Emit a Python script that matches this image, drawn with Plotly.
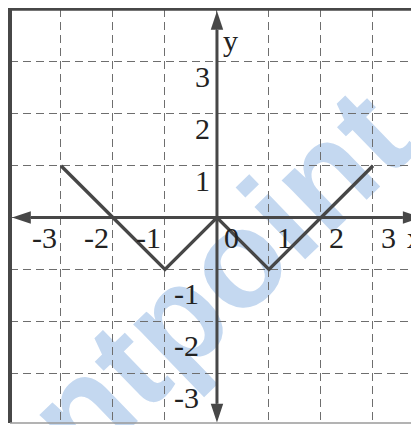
import plotly.graph_objects as go

# graph of the function, corner points
x_vals = [-3, -1, 0, 1, 3]
y_vals = [1, -1, 0, -1, 1]

grid_ticks = [-3, -2, -1, 0, 1, 2, 3]
x_tick_labels = ["-3", "-2", "-1", "0", "1", "2", "3"]
y_tick_labels = ["3", "2", "1", "-1", "-2", "-3"]
y_tick_vals = [3, 2, 1, -1, -2, -3]

x_range = [-3.98, 3.885]
y_range = [-3.96, 4.02]

axis_col = "#474747"
serif = "Liberation Serif, Times New Roman, serif"

fig = go.Figure()

fig.add_trace(go.Scatter(x=x_vals, y=y_vals, mode="lines",
                         line=dict(color=axis_col, width=3.4), hoverinfo="skip"))

# axes with arrow heads (data units are square: ~52px per unit)
hl, hw = 0.36, 0.12
xl, xr = x_range[0] + 0.04, x_range[1] + 0.05
yb, yt = y_range[0] + 0.01, y_range[1] - 0.04
shapes = [
    dict(type="line", x0=xl + hl, y0=0, x1=xr - hl, y1=0, line=dict(color=axis_col, width=3)),
    dict(type="line", x0=0, y0=yb + hl, x1=0, y1=yt - hl, line=dict(color=axis_col, width=3)),
    dict(type="path", path=f"M{xl},0 L{xl+hl},{hw} L{xl+hl},{-hw} Z",
         fillcolor=axis_col, line=dict(width=0)),
    dict(type="path", path=f"M{xr},0 L{xr-hl},{hw} L{xr-hl},{-hw} Z",
         fillcolor=axis_col, line=dict(width=0)),
    dict(type="path", path=f"M0,{yt} L{hw},{yt-hl} L{-hw},{yt-hl} Z",
         fillcolor=axis_col, line=dict(width=0)),
    dict(type="path", path=f"M0,{yb} L{hw},{yb+hl} L{-hw},{yb+hl} Z",
         fillcolor=axis_col, line=dict(width=0)),
    # frame
    dict(type="line", xref="paper", yref="paper", x0=0, y0=0, x1=0, y1=1.01,
         line=dict(color=axis_col, width=4)),
    dict(type="line", xref="paper", yref="paper", x0=0, y0=1, x1=1, y1=1,
         line=dict(color=axis_col, width=3.5)),
    dict(type="line", xref="paper", yref="paper", x0=0, y0=0, x1=1, y1=0,
         line=dict(color="#9a9a9a", width=1.5)),
    # watermark
    dict(type="line", xref="paper", yref="paper", x0=0.257, y0=0.156, x1=0.784, y1=0.660,
         layer="below", line=dict(width=0, color="rgba(0,0,0,0)"),
         label=dict(text="entpoint.c", textposition="middle", yanchor="middle",
                    font=dict(family="Liberation Sans, Arial, sans-serif", size=138,
                              color="#c4d8f0", weight="bold"))),
]

annotations = []
for v, t in zip(grid_ticks, x_tick_labels):
    if v < 0:
        annotations.append(dict(x=v - 0.04, y=-0.38, text=t, xanchor="right"))
    elif v == 0:
        annotations.append(dict(x=0.1, y=-0.38, text=t, xanchor="left"))
    else:
        annotations.append(dict(x=v + 0.12, y=-0.38, text=t, xanchor="left"))
for v, t in zip(y_tick_vals, y_tick_labels):
    if v > 0:
        annotations.append(dict(x=-0.1, y=v - 0.28, text=t, xanchor="right"))
    else:
        annotations.append(dict(x=-0.3, y=v - 0.46, text=t, xanchor="right"))
annotations.append(dict(x=3.62, y=-0.38, text="x", xanchor="left"))
annotations.append(dict(x=0.08, y=3.42, text="y", xanchor="left"))
for a in annotations:
    a.update(xref="x", yref="y", showarrow=False, yanchor="middle",
             font=dict(family=serif, size=30, color="#222"))

# page body has an 8px margin, so the figure is drawn 8px in from the window edge
fig.update_layout(
    width=411, height=417,
    margin=dict(l=2, r=0, t=1, b=2),
    paper_bgcolor="white", plot_bgcolor="white",
    showlegend=False,
    shapes=shapes,
    annotations=annotations,
    xaxis=dict(range=x_range, tickvals=grid_ticks, showticklabels=False,
               showgrid=True, gridcolor="#6e6e6e", gridwidth=1.2, griddash="8px,5px",
               zeroline=False, fixedrange=True),
    yaxis=dict(range=y_range, tickvals=grid_ticks, showticklabels=False,
               showgrid=True, gridcolor="#6e6e6e", gridwidth=1.2, griddash="8px,5px",
               zeroline=False, fixedrange=True),
)

fig.write_html("out.html")
